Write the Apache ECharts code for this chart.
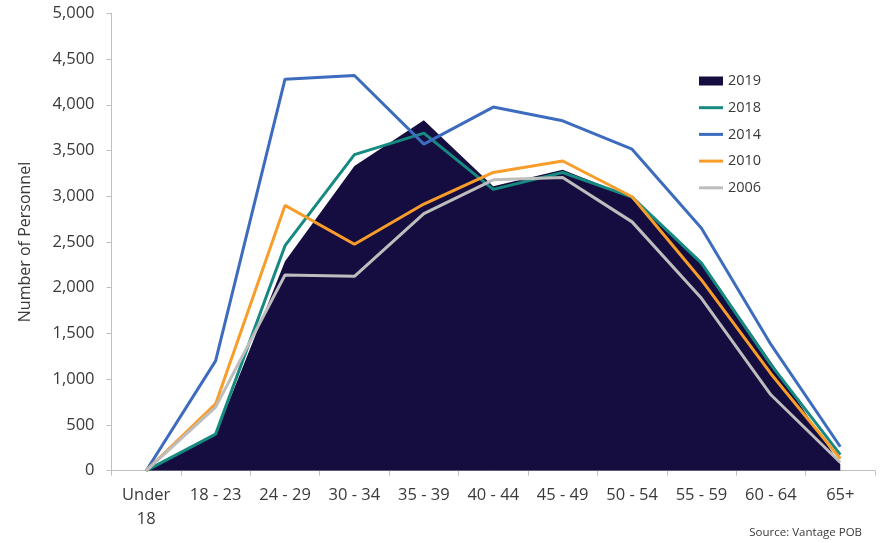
<!DOCTYPE html>
<html>
<head>
<meta charset="utf-8">
<script src="https://cdn.jsdelivr.net/npm/echarts@6/dist/echarts.min.js"></script>
<style>
  html, body { margin: 0; padding: 0; background: #ffffff; }
  #chart { width: 881px; height: 543px; }
</style>
</head>
<body>
<div id="chart"></div>
<script>
// Age bands of offshore personnel
const ageBands = ['Under 18', '18 - 23', '24 - 29', '30 - 34', '35 - 39', '40 - 44',
                  '45 - 49', '50 - 54', '55 - 59', '60 - 64', '65+'];

// Headcount per age band, by survey year
const personnel2019 = [0, 390, 2290, 3330, 3830, 3110, 3290, 2990, 2285, 1190, 70];
const personnel2018 = [0, 400, 2460, 3455, 3690, 3075, 3260, 2990, 2270, 1160, 175];
const personnel2014 = [0, 1200, 4280, 4320, 3570, 3975, 3825, 3515, 2650, 1380, 262];
const personnel2010 = [0, 730, 2900, 2475, 2915, 3260, 3385, 2995, 2085, 1060, 130];
const personnel2006 = [0, 695, 2140, 2125, 2810, 3180, 3205, 2720, 1885, 830, 90];

// Value axis ticks
const yTicks = [0, 500, 1000, 1500, 2000, 2500, 3000, 3500, 4000, 4500, 5000];

const FONT = '"Open Sans", "Noto Sans", sans-serif';
const TEXT = '#3a3a3a';
const AXIS = '#bfbfbf';

const colors = {
  '2019': '#150d3f',
  '2018': '#168a80',
  '2014': '#3d6cbf',
  '2010': '#f99d2a',
  '2006': '#bdbdbd'
};

function lineSeries(name, data) {
  return {
    name: name,
    type: 'line',
    data: data,
    symbol: 'none',
    z: 3,
    itemStyle: { color: colors[name] },
    lineStyle: { color: colors[name], width: 3 }
  };
}

const chart = echarts.init(document.getElementById('chart'), null, { renderer: 'canvas' });

chart.setOption({
  animation: false,
  textStyle: { fontFamily: FONT },
  grid: { left: 111.5, right: 6, top: 13.3, bottom: 72.3, containLabel: false },
  legend: [
    {
      data: ['2019'],
      orient: 'vertical',
      left: 694,
      top: 66,
      icon: 'rect',
      itemWidth: 24,
      itemHeight: 9,
      itemGap: 0,
      selectedMode: false,
      textStyle: { color: TEXT, fontSize: 14.5, fontFamily: FONT, lineHeight: 20 }
    },
    {
      data: ['2018', '2014', '2010', '2006'],
      orient: 'vertical',
      left: 694,
      top: 92.7,
      icon: 'rect',
      itemWidth: 24,
      itemHeight: 3,
      itemGap: 6.7,
      selectedMode: false,
      textStyle: { color: TEXT, fontSize: 14.5, fontFamily: FONT, lineHeight: 20 }
    }
  ],
  xAxis: {
    type: 'category',
    data: ageBands,
    boundaryGap: true,
    axisLine: { show: true, lineStyle: { color: AXIS, width: 1 } },
    axisTick: { show: true, interval: 0, length: 5, lineStyle: { color: AXIS } },
    axisLabel: {
      interval: 0,
      margin: 13,
      color: TEXT,
      fontSize: 16.5,
      fontFamily: FONT,
      lineHeight: 24,
      formatter: v => v.replace('Under ', 'Under\n')
    },
    splitLine: { show: false }
  },
  yAxis: {
    type: 'value',
    min: yTicks[0],
    max: yTicks[yTicks.length - 1],
    interval: yTicks[1] - yTicks[0],
    name: 'Number of Personnel',
    nameLocation: 'middle',
    nameGap: 78,
    nameTextStyle: { color: TEXT, fontSize: 16, fontFamily: FONT },
    axisLine: { show: true, lineStyle: { color: AXIS, width: 1 } },
    axisTick: { show: true, length: 5, lineStyle: { color: AXIS } },
    axisLabel: {
      margin: 17,
      color: TEXT,
      fontSize: 16.5,
      fontFamily: FONT,
      formatter: v => v.toLocaleString('en-US')
    },
    splitLine: { show: false }
  },
  series: [
    {
      name: '2019',
      type: 'line',
      data: personnel2019,
      symbol: 'none',
      z: 2,
      itemStyle: { color: colors['2019'] },
      lineStyle: { width: 0, opacity: 0 },
      areaStyle: { color: colors['2019'], opacity: 1 }
    },
    lineSeries('2018', personnel2018),
    lineSeries('2014', personnel2014),
    lineSeries('2010', personnel2010),
    lineSeries('2006', personnel2006)
  ],
  graphic: [
    {
      type: 'text',
      right: 19,
      top: 527,
      style: {
        text: 'Source: Vantage POB',
        fill: TEXT,
        font: '11.5px ' + FONT
      }
    }
  ]
});
</script>
</body>
</html>
